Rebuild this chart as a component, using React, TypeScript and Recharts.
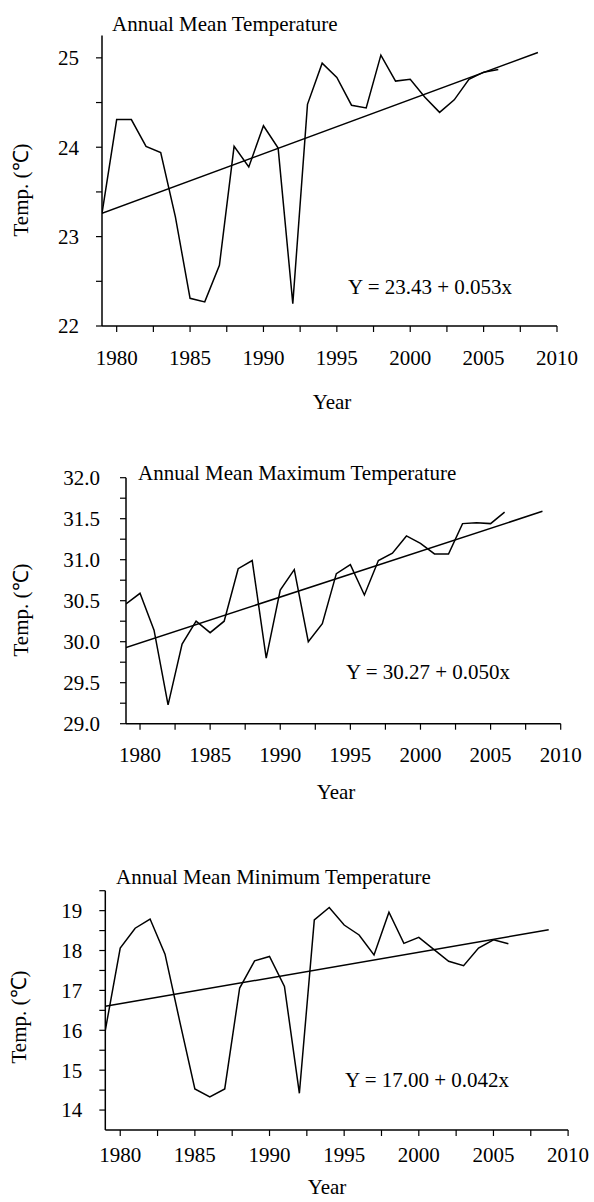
import React from "react";
import { LineChart, Line, XAxis, YAxis } from "recharts";

const years = [
  1979, 1980, 1981, 1982, 1983, 1984, 1985, 1986, 1987, 1988, 1989, 1990, 1991, 1992,
  1993, 1994, 1995, 1996, 1997, 1998, 1999, 2000, 2001, 2002, 2003, 2004, 2005, 2006,
];

const meanTemp = [
  23.26, 24.31, 24.31, 24.01, 23.94, 23.22, 22.31, 22.27, 22.68, 24.01, 23.78, 24.24, 23.99, 22.25,
  24.48, 24.94, 24.78, 24.47, 24.44, 25.03, 24.74, 24.76, 24.56, 24.39, 24.53, 24.76, 24.84, 24.87,
];
const maxTemp = [
  30.46, 30.59, 30.14, 29.23, 29.97, 30.25, 30.11, 30.25, 30.89, 30.99, 29.8, 30.63, 30.88, 30.0,
  30.22, 30.83, 30.94, 30.57, 30.99, 31.08, 31.29, 31.2, 31.07, 31.07, 31.44, 31.45, 31.44, 31.58,
];
const minTemp = [
  16.0, 18.06, 18.56, 18.79, 17.91, 16.2, 14.53, 14.33, 14.53, 17.06, 17.74, 17.85, 17.1, 14.42,
  18.77, 19.08, 18.64, 18.39, 17.89, 18.96, 18.18, 18.33, 18.03, 17.73, 17.62, 18.06, 18.27, 18.17,
];

// fitted trend lines, start and end of the drawn segment
const trendYears = [1979, 2008.7];
const meanTrend = [23.26, 25.06];
const maxTrend = [29.93, 31.59];
const minTrend = [16.6, 18.52];

const xTicks = [1980, 1982.5, 1985, 1987.5, 1990, 1992.5, 1995, 1997.5, 2000, 2002.5, 2005, 2007.5, 2010];
const meanTicks = [22, 22.5, 23, 23.5, 24, 24.5, 25];
const maxTicks = [29, 29.25, 29.5, 29.75, 30, 30.25, 30.5, 30.75, 31, 31.25, 31.5, 31.75, 32];
const minTicks = [14, 14.5, 15, 15.5, 16, 16.5, 17, 17.5, 18, 18.5, 19, 19.5];

const FONT = '"Liberation Serif", "Times New Roman", serif';
const TICK_FS = 21;

const toRows = (vals: number[]) => years.map((year, i) => ({ year, v: vals[i] }));
const toTrend = (vals: number[]) => trendYears.map((year, i) => ({ year, v: vals[i] }));

const xFmt = (v: number) => (v % 5 === 0 ? String(v) : "");
const intFmt = (v: number) => (v % 1 === 0 ? String(v) : "");
const halfFmt = (v: number) => (v % 0.5 === 0 ? v.toFixed(1) : "");

const XTick = (props: any) => {
  const { x, y, payload } = props;
  return (
    <text x={x} y={y} dy="0.71em" textAnchor="middle" fontFamily={FONT} fontSize={TICK_FS} fill="#000">
      {xFmt(payload.value)}
    </text>
  );
};

const makeYTick = (fmt: (v: number) => string) => (props: any) => {
  const { x, y, payload } = props;
  return (
    <text x={x} y={y} dy="0.35em" textAnchor="end" fontFamily={FONT} fontSize={TICK_FS} fill="#000">
      {fmt(payload.value)}
    </text>
  );
};

interface PanelProps {
  top: number;
  height: number;
  title: string;
  equation: string;
  values: number[];
  trend: number[];
  yDomain: [number, number];
  yTicks: number[];
  yFormat: (v: number) => string;
  margin: { top: number; right: number; bottom: number; left: number };
  xTickMargin: number;
  yTickMargin: number;
  titlePos: [number, number];
  eqPos: [number, number];
  yLabelPos: [number, number];
  xLabelPos: [number, number];
}

function Panel(p: PanelProps) {
  return (
    <div style={{ position: "absolute", left: 0, top: p.top, width: 594, height: p.height }}>
      <LineChart width={594} height={p.height} data={toRows(p.values)} margin={p.margin}>
        <XAxis
          type="number"
          dataKey="year"
          domain={[1979, 2010]}
          ticks={xTicks}
          interval={0}
          allowDataOverflow
          tick={<XTick />}
          tickSize={6}
          tickMargin={p.xTickMargin}
          height={40}
          axisLine={{ stroke: "#000", strokeWidth: 1.5 }}
          tickLine={{ stroke: "#000", strokeWidth: 1.2 }}
        />
        <YAxis
          type="number"
          domain={p.yDomain}
          ticks={p.yTicks}
          interval={0}
          allowDataOverflow
          tick={makeYTick(p.yFormat)}
          tickSize={6}
          tickMargin={p.yTickMargin}
          width={60}
          axisLine={{ stroke: "#000", strokeWidth: 1.5 }}
          tickLine={{ stroke: "#000", strokeWidth: 1.2 }}
        />
        <Line
          dataKey="v"
          type="linear"
          stroke="#000"
          strokeWidth={1.5}
          dot={false}
          isAnimationActive={false}
        />
        <Line
          data={toTrend(p.trend)}
          dataKey="v"
          type="linear"
          stroke="#000"
          strokeWidth={1.5}
          dot={false}
          isAnimationActive={false}
        />
        <text x={p.titlePos[0]} y={p.titlePos[1]} fontFamily={FONT} fontSize={21} fill="#000">
          {p.title}
        </text>
        <text x={p.eqPos[0]} y={p.eqPos[1]} fontFamily={FONT} fontSize={21} fill="#000">
          {p.equation}
        </text>
        <text
          x={p.yLabelPos[0]}
          y={p.yLabelPos[1]}
          fontFamily={FONT}
          fontSize={21}
          fill="#000"
          textAnchor="middle"
          dominantBaseline="central"
          transform={`rotate(-90 ${p.yLabelPos[0]} ${p.yLabelPos[1]})`}
        >
          Temp. (℃)
        </text>
        <text
          x={p.xLabelPos[0]}
          y={p.xLabelPos[1]}
          fontFamily={FONT}
          fontSize={21}
          fill="#000"
          textAnchor="middle"
        >
          Year
        </text>
      </LineChart>
    </div>
  );
}

export default function App() {
  return (
    <div style={{ position: "absolute", left: 0, top: 0, width: 594, height: 1202, background: "#fff" }}>
      <Panel
        top={0}
        height={430}
        title="Annual Mean Temperature"
        equation="Y = 23.43 + 0.053x"
        values={meanTemp}
        trend={meanTrend}
        yDomain={[22, 25.25]}
        yTicks={meanTicks}
        yFormat={intFmt}
        margin={{ top: 35.5, right: 37, bottom: 64, left: 42 }}
        xTickMargin={18}
        yTickMargin={17}
        titlePos={[112, 31]}
        eqPos={[348, 294]}
        yLabelPos={[21, 190]}
        xLabelPos={[332, 409]}
      />
      <Panel
        top={400}
        height={430}
        title="Annual Mean Maximum Temperature"
        equation="Y = 30.27 + 0.050x"
        values={maxTemp}
        trend={maxTrend}
        yDomain={[29, 32]}
        yTicks={maxTicks}
        yFormat={halfFmt}
        margin={{ top: 77.7, right: 33.3, bottom: 66.3, left: 66 }}
        xTickMargin={17}
        yTickMargin={20}
        titlePos={[138, 80]}
        eqPos={[346, 279]}
        yLabelPos={[21, 210]}
        xLabelPos={[336, 399]}
      />
      <Panel
        top={800}
        height={402}
        title="Annual Mean Minimum Temperature"
        equation="Y = 17.00 + 0.042x"
        values={minTemp}
        trend={minTrend}
        yDomain={[13.5, 19.5]}
        yTicks={minTicks}
        yFormat={intFmt}
        margin={{ top: 90.7, right: 25.9, bottom: 32, left: 45.3 }}
        xTickMargin={11}
        yTickMargin={17}
        titlePos={[116, 84]}
        eqPos={[345, 287]}
        yLabelPos={[19, 217]}
        xLabelPos={[327, 394]}
      />
    </div>
  );
}
